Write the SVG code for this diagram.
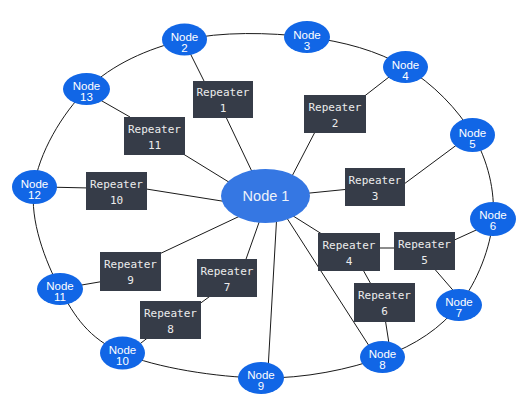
<svg xmlns="http://www.w3.org/2000/svg" width="522" height="408" viewBox="0 0 522 408">
<style>
.ln{stroke:#1a1a1a;stroke-width:1;fill:none}
.nd{fill:#1166e6}
.nt{fill:#ffffff;font-family:"Liberation Sans","DejaVu Sans",sans-serif;font-size:11.5px;text-anchor:middle}
.rp{fill:#363c48}
.rt{fill:#ececec;font-family:"DejaVu Sans Mono","Liberation Mono",monospace;font-size:11px;text-anchor:middle}
</style>
<rect width="522" height="408" fill="#ffffff"/>
<g id="connectors">
<path class="ln" d="M184,40 C220.7,31.3 270.2,32.5 307,37 C343.8,41.5 377.3,50.7 405,67 C432.7,83.3 458.3,109.7 473,135 C487.7,160.3 495.3,190.7 493,219 C490.7,247.3 477.3,282 459,305 C440.7,328 416,344.8 383,357 C350,369.2 304.5,378.7 261,378 C217.5,377.3 155.5,367.8 122,353 C88.5,338.2 74.7,316.7 60,289 C45.3,261.3 29.5,220.3 34,187 C38.5,153.7 62,113.5 87,89 C112,64.5 147.3,48.7 184,40 Z"/>
<line class="ln" x1="186" y1="45" x2="206" y2="85"/>
<line class="ln" x1="225" y1="115" x2="256" y2="180"/>
<line class="ln" x1="398" y1="70" x2="362" y2="98"/>
<line class="ln" x1="316" y1="130" x2="290" y2="180"/>
<line class="ln" x1="462" y1="141" x2="400" y2="187"/>
<line class="ln" x1="350" y1="189" x2="300" y2="194"/>
<line class="ln" x1="95" y1="97" x2="130" y2="117"/>
<line class="ln" x1="180" y1="152" x2="232" y2="184"/>
<line class="ln" x1="45" y1="187" x2="90" y2="188"/>
<line class="ln" x1="140" y1="188" x2="228" y2="202"/>
<line class="ln" x1="240" y1="216" x2="155" y2="256"/>
<line class="ln" x1="105" y1="281" x2="70" y2="287"/>
<line class="ln" x1="262" y1="214" x2="245" y2="262"/>
<line class="ln" x1="213" y1="294" x2="198" y2="305"/>
<line class="ln" x1="150" y1="336" x2="132" y2="350"/>
<line class="ln" x1="277" y1="212" x2="268" y2="370"/>
<line class="ln" x1="283" y1="212" x2="373" y2="352"/>
<line class="ln" x1="290" y1="214" x2="325" y2="236"/>
<line class="ln" x1="378" y1="248" x2="396" y2="248"/>
<line class="ln" x1="362" y1="268" x2="372" y2="286"/>
<line class="ln" x1="385" y1="318" x2="390" y2="350"/>
<line class="ln" x1="450" y1="242" x2="485" y2="226"/>
<line class="ln" x1="432" y1="266" x2="458" y2="296"/>
</g>
<g id="node1"><ellipse cx="265.5" cy="196" rx="44.5" ry="27" fill="#3577e3"/><text x="266" y="201" class="nt" style="font-size:14.5px;fill:#eef2fa">Node 1</text></g>
<g id="node2"><ellipse class="nd" cx="184.5" cy="39.5" rx="22.5" ry="16"/><text class="nt" x="184.5" y="41">Node</text><text class="nt" x="184.5" y="52">2</text></g>
<g id="node3"><ellipse class="nd" cx="307" cy="37" rx="23" ry="16"/><text class="nt" x="307" y="38.5">Node</text><text class="nt" x="307" y="49.5">3</text></g>
<g id="node4"><ellipse class="nd" cx="405.5" cy="67" rx="22.5" ry="16"/><text class="nt" x="405.5" y="68.5">Node</text><text class="nt" x="405.5" y="79.5">4</text></g>
<g id="node5"><ellipse class="nd" cx="472.5" cy="135" rx="22.5" ry="17"/><text class="nt" x="472.5" y="136.5">Node</text><text class="nt" x="472.5" y="147.5">5</text></g>
<g id="node6"><ellipse class="nd" cx="493" cy="219" rx="23" ry="17"/><text class="nt" x="493" y="219">Node</text><text class="nt" x="493" y="230">6</text></g>
<g id="node7"><ellipse class="nd" cx="459" cy="305" rx="23" ry="16"/><text class="nt" x="459" y="306">Node</text><text class="nt" x="459" y="317">7</text></g>
<g id="node8"><ellipse class="nd" cx="382.5" cy="357" rx="22.5" ry="16"/><text class="nt" x="382.5" y="358">Node</text><text class="nt" x="382.5" y="369">8</text></g>
<g id="node9"><ellipse class="nd" cx="261" cy="378" rx="23" ry="16"/><text class="nt" x="261" y="379">Node</text><text class="nt" x="261" y="390">9</text></g>
<g id="node10"><ellipse class="nd" cx="122.5" cy="353" rx="22.5" ry="16.5"/><text class="nt" x="122.5" y="354">Node</text><text class="nt" x="122.5" y="365">10</text></g>
<g id="node11"><ellipse class="nd" cx="60" cy="289" rx="23" ry="16"/><text class="nt" x="60" y="290">Node</text><text class="nt" x="60" y="301">11</text></g>
<g id="node12"><ellipse class="nd" cx="34.5" cy="187" rx="22.5" ry="17"/><text class="nt" x="34.5" y="188">Node</text><text class="nt" x="34.5" y="199">12</text></g>
<g id="node13"><ellipse class="nd" cx="86.5" cy="89" rx="23.5" ry="16"/><text class="nt" x="86.5" y="90">Node</text><text class="nt" x="86.5" y="101">13</text></g>
<g id="rep1"><rect class="rp" x="193" y="81" width="60" height="37"/><text class="rt" x="223" y="96">Repeater</text><text class="rt" x="223" y="112">1</text></g>
<g id="rep2"><rect class="rp" x="304" y="95" width="62" height="38"/><text class="rt" x="335" y="110.5">Repeater</text><text class="rt" x="335" y="126.5">2</text></g>
<g id="rep3"><rect class="rp" x="345" y="168" width="60" height="38"/><text class="rt" x="375" y="183.5">Repeater</text><text class="rt" x="375" y="199.5">3</text></g>
<g id="rep4"><rect class="rp" x="318" y="233" width="62" height="38"/><text class="rt" x="349" y="248.5">Repeater</text><text class="rt" x="349" y="264.5">4</text></g>
<g id="rep5"><rect class="rp" x="394" y="232" width="61" height="38"/><text class="rt" x="424.5" y="247.5">Repeater</text><text class="rt" x="424.5" y="263.5">5</text></g>
<g id="rep6"><rect class="rp" x="354" y="283" width="61" height="39"/><text class="rt" x="384.5" y="299">Repeater</text><text class="rt" x="384.5" y="315">6</text></g>
<g id="rep7"><rect class="rp" x="197" y="259" width="60" height="38"/><text class="rt" x="227" y="274.5">Repeater</text><text class="rt" x="227" y="290.5">7</text></g>
<g id="rep8"><rect class="rp" x="140" y="301" width="61" height="38"/><text class="rt" x="170.5" y="316.5">Repeater</text><text class="rt" x="170.5" y="332.5">8</text></g>
<g id="rep9"><rect class="rp" x="100" y="252" width="61" height="39"/><text class="rt" x="130.5" y="268">Repeater</text><text class="rt" x="130.5" y="284">9</text></g>
<g id="rep10"><rect class="rp" x="86" y="172" width="61" height="38"/><text class="rt" x="116.5" y="187.5">Repeater</text><text class="rt" x="116.5" y="203.5">10</text></g>
<g id="rep11"><rect class="rp" x="124" y="117" width="61" height="38"/><text class="rt" x="154.5" y="132.5">Repeater</text><text class="rt" x="154.5" y="148.5">11</text></g>
</svg>
